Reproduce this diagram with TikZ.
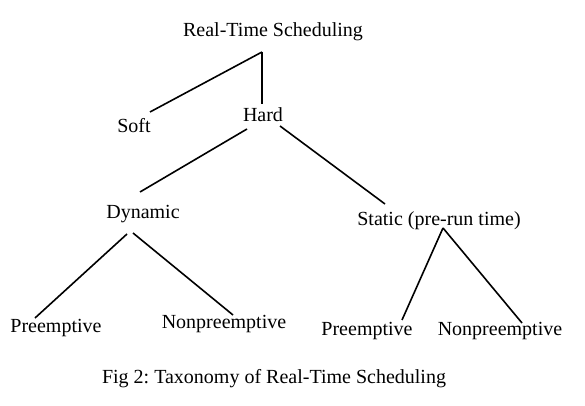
\documentclass[tikz,border=0pt]{standalone}
\usepackage{fontspec}
\setmainfont{Liberation Serif}
\begin{document}
\begin{tikzpicture}[x=1pt,y=-1pt,
  lbl/.style={anchor=base,inner sep=0pt,font=\fontsize{20}{22}\selectfont},
  edge/.style={line width=1.6pt}]
\useasboundingbox[fill=white] (0,0) rectangle (585,406);
\node[lbl] (root) at (273,37) {Real-Time Scheduling};
\node[lbl] (soft) at (134,133) {Soft};
\node[lbl] (hard) at (263,122) {Hard};
\node[lbl] (dyn) at (143,218) {Dynamic};
\node[lbl] (stat) at (439,225) {Static (pre-run time)};
\node[lbl] (pre1) at (56,332) {Preemptive};
\node[lbl] (non1) at (224,328) {Nonpreemptive};
\node[lbl] (pre2) at (367,335) {Preemptive};
\node[lbl] (non2) at (500,335) {Nonpreemptive};
\node[lbl] (cap) at (274,383) {Fig 2:\ Taxonomy of Real-Time Scheduling};
% connector ends
\coordinate (rootB) at (262,52);
\coordinate (softT) at (150,112);
\coordinate (hardT) at (262,104);
\coordinate (hardL) at (247,129);
\coordinate (hardR) at (280,126);
\coordinate (dynT) at (140,192);
\coordinate (statT) at (385,204);
\coordinate (dynL) at (127,234);
\coordinate (dynR) at (133,233);
\coordinate (pre1T) at (35,318);
\coordinate (non1T) at (233,315);
\coordinate (statB) at (443,228);
\coordinate (pre2T) at (402,320);
\coordinate (non2T) at (522,323);
\draw[edge] (rootB) -- (softT);
\draw[edge] (rootB) -- (hardT);
\draw[edge] (hardL) -- (dynT);
\draw[edge] (hardR) -- (statT);
\draw[edge] (dynL) -- (pre1T);
\draw[edge] (dynR) -- (non1T);
\draw[edge] (statB) -- (pre2T);
\draw[edge] (statB) -- (non2T);
\end{tikzpicture}
\end{document}
